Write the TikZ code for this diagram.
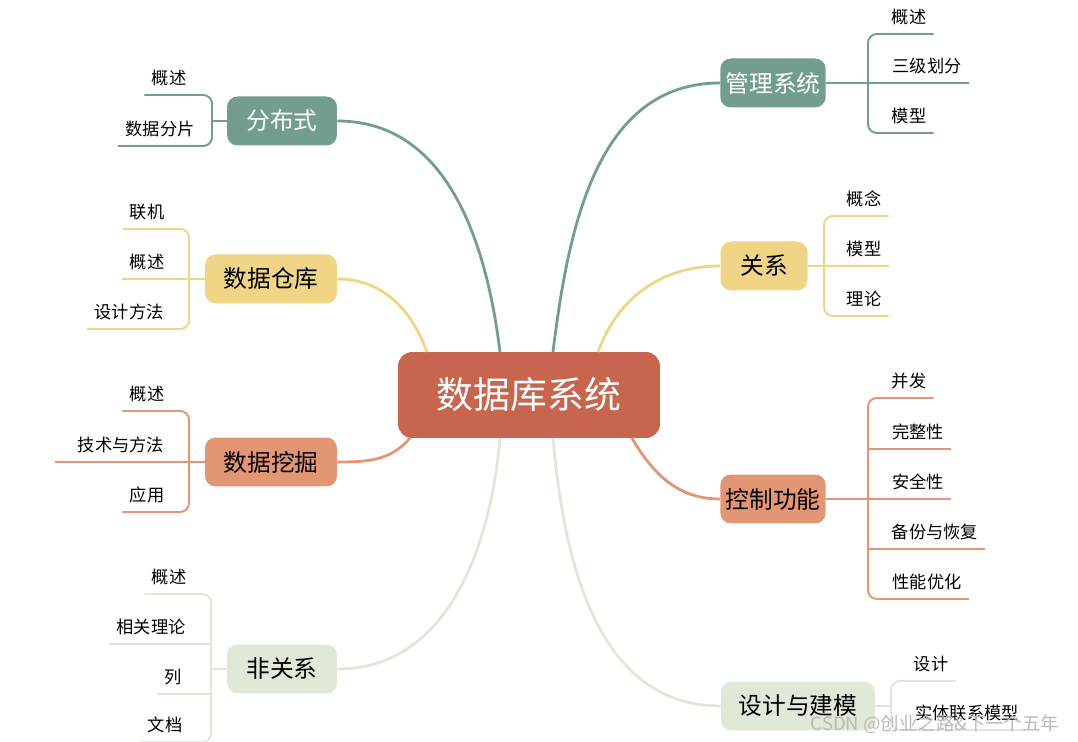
\documentclass[tikz,border=0pt]{standalone}
\usepackage{fontspec}
\setmainfont{Noto Sans CJK SC}
\usepackage{tikz}

\definecolor{mgreen}{HTML}{739E8E}
\definecolor{myellow}{HTML}{F0D586}
\definecolor{morange}{HTML}{E39673}
\definecolor{mred}{HTML}{C8654E}
\definecolor{mlight}{HTML}{E0E8D8}

\tikzset{
  topic/.style={rounded corners=6pt, minimum height=0.98cm, font=\fontsize{13.5}{15}\selectfont, inner xsep=3pt},
  leaf/.style={anchor=south, inner xsep=4pt, inner ysep=5pt, font=\fontsize{9.8}{11}\selectfont},
  twig/.style={line width=1.1pt, rounded corners=5pt}
}

\begin{document}
\begin{tikzpicture}[x=0.02cm, y=-0.02cm]
            \useasboundingbox (0, 0) rectangle (1078, 742);

            % centre
            \node[fill=mred, text=white, rounded corners=8pt, minimum width=5.24cm, minimum height=1.72cm,
                  font=\fontsize{21}{24}\selectfont] (root) at (529, 395){数据库系统};
            \coordinate (rootNW) at (500, 352);
            \coordinate (rootNE) at (553, 352);
            \coordinate (rootSW) at (500, 438);
            \coordinate (rootSE) at (553, 438);

            % main topics
            \node[topic, fill=mgreen, text=white, minimum width=2.2cm] (dist) at (282, 121){分布式};
            \node[topic, fill=myellow, minimum width=2.64cm] (ware) at (271, 279){数据仓库};
            \node[topic, fill=morange, minimum width=2.64cm] (mine) at (271, 462){数据挖掘};
            \node[topic, fill=mlight, minimum width=2.2cm] (nosql) at (282, 669){非关系};
            \node[topic, fill=mgreen, text=white, minimum width=2.1cm] (mgmt) at (773, 83){管理系统};
            \node[topic, fill=myellow, minimum width=1.74cm] (rel) at (764, 266){关系};
            \node[topic, fill=morange, minimum width=2.1cm] (ctrl) at (773, 499){控制功能};
            \node[topic, fill=mlight, minimum width=3.08cm] (model) at (798, 706){设计与建模};

            % connectors from the centre
            \draw[mgreen, line width=1.6pt] (rootNW) to[out=97, in=0] (dist.east);
            \draw[myellow, line width=1.6pt] (427, 352) to[out=110, in=0] (ware.east);
            \draw[morange, line width=1.6pt] (410, 438) to[out=-130, in=0] (mine.east);
            \draw[mlight, line width=1.6pt] (rootSW) to[out=-95, in=0] (nosql.east);
            \draw[mgreen, line width=1.6pt] (rootNE) to[out=83, in=180] (mgmt.west);
            \draw[myellow, line width=1.6pt] (598, 352) to[out=70, in=180] (rel.west);
            \draw[morange, line width=1.6pt] (632, 438) to[out=-60, in=180] (ctrl.west);
            \draw[mlight, line width=1.6pt] (rootSE) to[out=-85, in=180] (model.west);

            % 分布式
            \node[leaf] (dist1) at (169, 95){概述};
            \node[leaf] (dist2) at (160, 146){数据分片};
            \draw[twig, mgreen] (dist1.south west) -- (212, 95) -- (212, 146) -- (dist2.south west);
            \draw[twig, mgreen] (212, 121) -- (dist.west);

            % 数据仓库
            \node[leaf] (ware1) at (147, 229){联机};
            \node[leaf] (ware2) at (147, 279){概述};
            \node[leaf] (ware3) at (129, 329){设计方法};
            \draw[twig, myellow] (ware1.south west) -- (189, 229) -- (189, 329) -- (ware3.south west);
            \draw[twig, myellow] (ware2.south west) -- (ware.west);

            % 数据挖掘
            \node[leaf] (mine1) at (147, 411){概述};
            \node[leaf] (mine2) at (121, 462){技术与方法};
            \node[leaf] (mine3) at (147, 512){应用};
            \draw[twig, morange] (mine1.south west) -- (189, 411) -- (189, 512) -- (mine3.south west);
            \draw[twig, morange] (55, 462) -- (mine.west);

            % 非关系
            \node[leaf] (nosql1) at (169, 594){概述};
            \node[leaf] (nosql2) at (151, 644){相关理论};
            \node[leaf] (nosql3) at (173, 694){列};
            \node[leaf] (nosql4) at (165, 742){文档};
            \draw[twig, mlight] (nosql1.south west) -- (211, 594) -- (211, 742) -- (nosql4.south west);
            \draw[twig, mlight] (nosql2.south west) -- (211, 644);
            \draw[twig, mlight] (nosql3.south west) -- (211, 694);
            \draw[twig, mlight] (211, 669) -- (nosql.west);

            % 管理系统
            \node[leaf] (mgmt1) at (909, 34){概述};
            \node[leaf] (mgmt2) at (927, 83){三级划分};
            \node[leaf] (mgmt3) at (909, 133){模型};
            \draw[twig, mgreen] (mgmt1.south east) -- (868, 34) -- (868, 133) -- (mgmt3.south east);
            \draw[twig, mgreen] (mgmt.east) -- (mgmt2.south east);

            % 关系
            \node[leaf] (rel1) at (864, 216){概念};
            \node[leaf] (rel2) at (864, 266){模型};
            \node[leaf] (rel3) at (864, 316){理论};
            \draw[twig, myellow] (rel1.south east) -- (824, 216) -- (824, 316) -- (rel3.south east);
            \draw[twig, myellow] (rel.east) -- (rel2.south east);

            % 控制功能
            \node[leaf] (ctrl1) at (909, 398){并发};
            \node[leaf] (ctrl2) at (918, 449){完整性};
            \node[leaf] (ctrl3) at (918, 499){安全性};
            \node[leaf] (ctrl4) at (935, 549){备份与恢复};
            \node[leaf] (ctrl5) at (927, 599){性能优化};
            \draw[twig, morange] (ctrl1.south east) -- (868, 398) -- (868, 599) -- (ctrl5.south east);
            \draw[twig, morange] (868, 449) -- (ctrl2.south east);
            \draw[twig, morange] (ctrl.east) -- (ctrl3.south east);
            \draw[twig, morange] (868, 549) -- (ctrl4.south east);

            % 设计与建模
            \node[leaf] (model1) at (931, 681){设计};
            \node[leaf] (model2) at (967, 730){实体联系模型};
            \draw[twig, mlight] (model1.south east) -- (891, 681) -- (891, 730) -- (model2.south east);
            \draw[twig, mlight] (model.east) -- (891, 706);

            \node[text=gray!55, font=\fontsize{10.5}{12}\selectfont] (mark) at (935, 724){CSDN @创业之路\&下一个五年};
        \end{tikzpicture}
\end{document}
